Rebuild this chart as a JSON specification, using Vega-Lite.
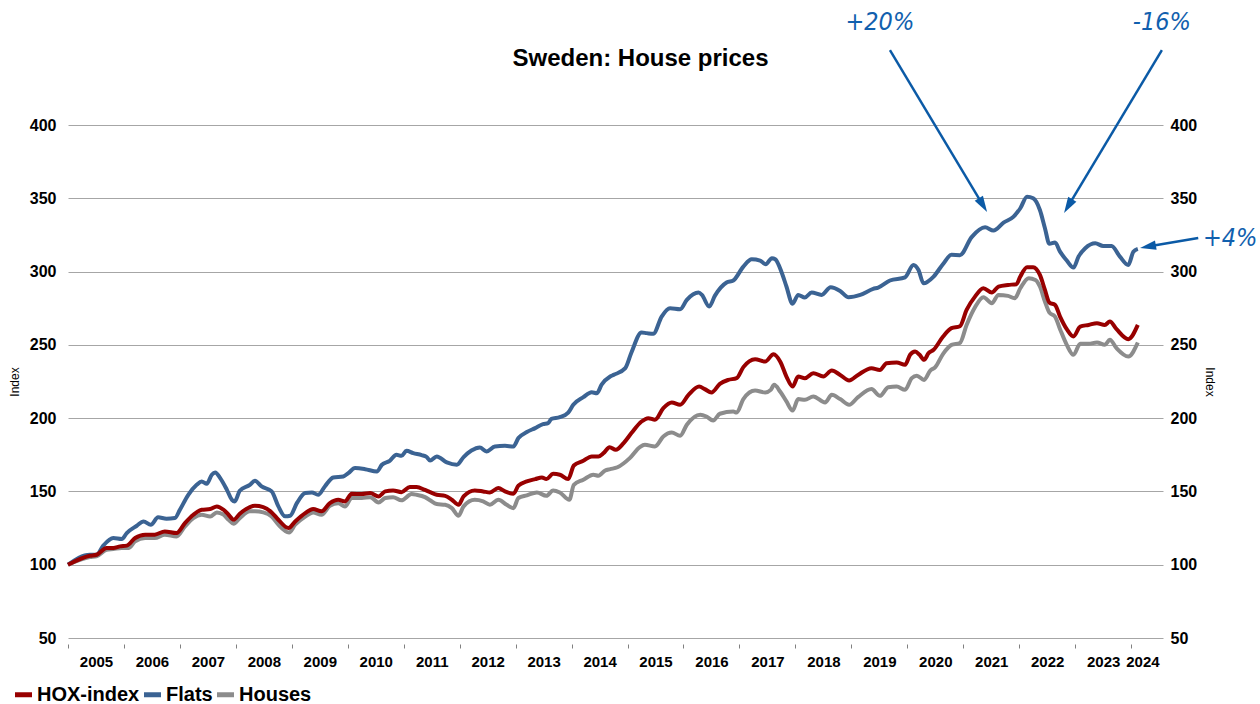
{
  "$schema": "https://vega.github.io/schema/vega-lite/v6.json",
  "width": 1095,
  "height": 513,
  "autosize": "none",
  "padding": {"left": 68, "top": 125, "right": 97, "bottom": 66},
  "background": "white",
  "title": {"text": "Sweden: House prices", "font": "Liberation Sans", "fontSize": 24, "fontWeight": "bold", "color": "#000000", "anchor": "middle", "frame": "group", "dx": 25, "offset": -61},
  "config": {
    "view": {"stroke": null},
    "axis": {"labelFont": "Liberation Sans", "titleFont": "Liberation Sans", "labelColor": "#000000", "titleColor": "#000000"}
  },
  "datasets": {
    "hox": [
      {"year":2005.0,"index":100},{"year":2005.39,"index":106.1},{"year":2005.51,"index":106.8},{"year":2005.69,"index":111.4},{"year":2005.81,"index":111.4},{"year":2005.93,"index":112.5},{"year":2006.05,"index":113},{"year":2006.2,"index":118.2},{"year":2006.38,"index":120.5},{"year":2006.55,"index":120.5},{"year":2006.73,"index":122.7},{"year":2006.94,"index":121.6},{"year":2007.09,"index":128.4},{"year":2007.24,"index":134.1},{"year":2007.39,"index":137.5},{"year":2007.54,"index":138},{"year":2007.66,"index":139.8},{"year":2007.78,"index":137.5},{"year":2007.87,"index":134.1},{"year":2007.96,"index":130.7},{"year":2008.07,"index":134.8},{"year":2008.25,"index":139.3},{"year":2008.34,"index":140.2},{"year":2008.49,"index":139.3},{"year":2008.64,"index":135.7},{"year":2008.76,"index":130.7},{"year":2008.94,"index":125},{"year":2009.06,"index":129.5},{"year":2009.24,"index":135.2},{"year":2009.38,"index":138},{"year":2009.53,"index":136.4},{"year":2009.68,"index":142},{"year":2009.83,"index":144.3},{"year":2009.95,"index":143.2},{"year":2010.07,"index":148.4},{"year":2010.25,"index":148.2},{"year":2010.4,"index":148.9},{"year":2010.55,"index":146.6},{"year":2010.67,"index":150},{"year":2010.81,"index":150.7},{"year":2010.96,"index":149.5},{"year":2011.11,"index":153},{"year":2011.23,"index":153},{"year":2011.38,"index":151},{"year":2011.47,"index":149.5},{"year":2011.59,"index":147.7},{"year":2011.74,"index":147},{"year":2011.86,"index":144.3},{"year":2011.98,"index":140.9},{"year":2012.07,"index":146.6},{"year":2012.27,"index":150.7},{"year":2012.42,"index":150},{"year":2012.54,"index":149.3},{"year":2012.69,"index":152.3},{"year":2012.81,"index":150},{"year":2012.96,"index":148.4},{"year":2013.05,"index":153.9},{"year":2013.2,"index":156.8},{"year":2013.35,"index":158.4},{"year":2013.47,"index":159.5},{"year":2013.55,"index":158.4},{"year":2013.67,"index":162},{"year":2013.79,"index":161.4},{"year":2013.94,"index":158.4},{"year":2014.04,"index":167.7},{"year":2014.21,"index":170.9},{"year":2014.36,"index":173.9},{"year":2014.48,"index":173.9},{"year":2014.57,"index":176.1},{"year":2014.68,"index":180.2},{"year":2014.79,"index":178.4},{"year":2014.93,"index":183},{"year":2015.07,"index":189.8},{"year":2015.25,"index":197.7},{"year":2015.37,"index":200},{"year":2015.49,"index":198.9},{"year":2015.64,"index":206.8},{"year":2015.79,"index":210.7},{"year":2015.94,"index":209.1},{"year":2016.09,"index":215.9},{"year":2016.28,"index":221.6},{"year":2016.38,"index":219.8},{"year":2016.5,"index":217.5},{"year":2016.65,"index":223.4},{"year":2016.8,"index":226.1},{"year":2016.95,"index":227.3},{"year":2017.07,"index":234.8},{"year":2017.28,"index":240.2},{"year":2017.46,"index":238.6},{"year":2017.61,"index":243.6},{"year":2017.73,"index":238.5},{"year":2017.84,"index":228.4},{"year":2017.95,"index":221.6},{"year":2018.05,"index":228.4},{"year":2018.17,"index":227.3},{"year":2018.32,"index":230.7},{"year":2018.5,"index":228.4},{"year":2018.65,"index":232.5},{"year":2018.8,"index":229.5},{"year":2018.96,"index":225.7},{"year":2019.12,"index":229.5},{"year":2019.36,"index":234.1},{"year":2019.51,"index":232.9},{"year":2019.63,"index":237.5},{"year":2019.81,"index":237.9},{"year":2019.96,"index":236.4},{"year":2020.05,"index":243.2},{"year":2020.14,"index":245.5},{"year":2020.22,"index":243.2},{"year":2020.3,"index":239.8},{"year":2020.38,"index":244.3},{"year":2020.47,"index":246.6},{"year":2020.64,"index":255.7},{"year":2020.79,"index":261.4},{"year":2020.94,"index":262.7},{"year":2021.06,"index":273.9},{"year":2021.21,"index":282.9},{"year":2021.36,"index":288.6},{"year":2021.51,"index":285.7},{"year":2021.63,"index":289.8},{"year":2021.8,"index":290.9},{"year":2021.95,"index":291.4},{"year":2022.02,"index":296.6},{"year":2022.14,"index":303},{"year":2022.25,"index":303},{"year":2022.37,"index":297.7},{"year":2022.46,"index":287.5},{"year":2022.54,"index":278.8},{"year":2022.64,"index":277.3},{"year":2022.73,"index":269.3},{"year":2022.85,"index":260.7},{"year":2022.97,"index":255.7},{"year":2023.09,"index":262.5},{"year":2023.24,"index":263.6},{"year":2023.39,"index":264.8},{"year":2023.53,"index":263.6},{"year":2023.62,"index":265.9},{"year":2023.74,"index":260.7},{"year":2023.95,"index":253.9},{"year":2024.12,"index":263.6}
    ],
    "flats": [
      {"year":2005.0,"index":100},{"year":2005.39,"index":106.8},{"year":2005.51,"index":106.8},{"year":2005.63,"index":113},{"year":2005.81,"index":118.2},{"year":2005.96,"index":117.5},{"year":2006.05,"index":121.6},{"year":2006.23,"index":126.6},{"year":2006.35,"index":129.5},{"year":2006.48,"index":127.3},{"year":2006.61,"index":132.3},{"year":2006.76,"index":131.4},{"year":2006.91,"index":131.8},{"year":2007.0,"index":137.5},{"year":2007.15,"index":147.7},{"year":2007.3,"index":154.5},{"year":2007.39,"index":156.8},{"year":2007.48,"index":155.2},{"year":2007.57,"index":161.4},{"year":2007.63,"index":162.9},{"year":2007.72,"index":159.1},{"year":2007.84,"index":151.1},{"year":2007.93,"index":144.3},{"year":2007.98,"index":143.2},{"year":2008.07,"index":150.5},{"year":2008.25,"index":154.5},{"year":2008.34,"index":157.3},{"year":2008.46,"index":153.4},{"year":2008.64,"index":150},{"year":2008.76,"index":139.8},{"year":2008.88,"index":133},{"year":2008.97,"index":133.4},{"year":2009.09,"index":142},{"year":2009.24,"index":148.9},{"year":2009.36,"index":149.3},{"year":2009.47,"index":147.7},{"year":2009.59,"index":153.4},{"year":2009.74,"index":159.5},{"year":2009.92,"index":160.2},{"year":2010.01,"index":162.5},{"year":2010.13,"index":165.9},{"year":2010.31,"index":165.2},{"year":2010.52,"index":163.6},{"year":2010.61,"index":168.2},{"year":2010.75,"index":170.9},{"year":2010.87,"index":175},{"year":2010.96,"index":174.3},{"year":2011.05,"index":177.7},{"year":2011.17,"index":176.1},{"year":2011.32,"index":174.8},{"year":2011.41,"index":173.5},{"year":2011.47,"index":171.1},{"year":2011.59,"index":173.9},{"year":2011.77,"index":169.8},{"year":2011.95,"index":168.2},{"year":2012.07,"index":173.4},{"year":2012.21,"index":177.9},{"year":2012.36,"index":180},{"year":2012.48,"index":177.3},{"year":2012.63,"index":180.7},{"year":2012.81,"index":181.1},{"year":2012.96,"index":180.7},{"year":2013.05,"index":186.4},{"year":2013.2,"index":190.5},{"year":2013.35,"index":193.2},{"year":2013.49,"index":195.9},{"year":2013.58,"index":196.6},{"year":2013.64,"index":199.5},{"year":2013.79,"index":200.7},{"year":2013.94,"index":203.8},{"year":2014.03,"index":209.1},{"year":2014.21,"index":214.3},{"year":2014.36,"index":217.7},{"year":2014.45,"index":217},{"year":2014.54,"index":223},{"year":2014.69,"index":228.4},{"year":2014.75,"index":229.5},{"year":2014.96,"index":234.1},{"year":2015.07,"index":244.8},{"year":2015.25,"index":258.4},{"year":2015.34,"index":258},{"year":2015.46,"index":257.5},{"year":2015.61,"index":269.3},{"year":2015.76,"index":275},{"year":2015.94,"index":274.3},{"year":2016.06,"index":280.7},{"year":2016.27,"index":285.7},{"year":2016.33,"index":284.1},{"year":2016.46,"index":276.1},{"year":2016.56,"index":283.4},{"year":2016.77,"index":292.5},{"year":2016.89,"index":293.9},{"year":2017.07,"index":303.4},{"year":2017.22,"index":308.4},{"year":2017.37,"index":307.5},{"year":2017.47,"index":305},{"year":2017.58,"index":309.1},{"year":2017.64,"index":308.4},{"year":2017.76,"index":298.9},{"year":2017.84,"index":289.8},{"year":2017.95,"index":278},{"year":2018.05,"index":284.1},{"year":2018.17,"index":282.3},{"year":2018.29,"index":285.7},{"year":2018.47,"index":284.1},{"year":2018.63,"index":289.3},{"year":2018.8,"index":286.8},{"year":2018.95,"index":282.5},{"year":2019.16,"index":284.1},{"year":2019.39,"index":288.2},{"year":2019.48,"index":289.1},{"year":2019.69,"index":293.9},{"year":2019.96,"index":296.1},{"year":2020.11,"index":304.5},{"year":2020.2,"index":301.1},{"year":2020.29,"index":292},{"year":2020.47,"index":296.6},{"year":2020.64,"index":305.2},{"year":2020.79,"index":311.4},{"year":2020.94,"index":311.2},{"year":2021.15,"index":323.5},{"year":2021.39,"index":330.2},{"year":2021.54,"index":328},{"year":2021.72,"index":333.4},{"year":2021.9,"index":337.5},{"year":2022.02,"index":343.2},{"year":2022.14,"index":351.1},{"year":2022.25,"index":350},{"year":2022.37,"index":342},{"year":2022.46,"index":329.6},{"year":2022.54,"index":318.9},{"year":2022.64,"index":319.8},{"year":2022.73,"index":313.6},{"year":2022.85,"index":307.5},{"year":2022.97,"index":302.7},{"year":2023.06,"index":310.2},{"year":2023.18,"index":315.9},{"year":2023.36,"index":319.3},{"year":2023.5,"index":317.5},{"year":2023.65,"index":317.5},{"year":2023.8,"index":310.2},{"year":2023.95,"index":304.5},{"year":2024.04,"index":313.6},{"year":2024.12,"index":315.5}
    ],
    "houses": [
      {"year":2005.0,"index":100},{"year":2005.39,"index":105.2},{"year":2005.51,"index":105.7},{"year":2005.69,"index":110.2},{"year":2005.81,"index":110.7},{"year":2005.96,"index":111.4},{"year":2006.08,"index":111.4},{"year":2006.2,"index":115.9},{"year":2006.38,"index":118.2},{"year":2006.55,"index":118.2},{"year":2006.73,"index":120.5},{"year":2006.94,"index":119.3},{"year":2007.09,"index":126.1},{"year":2007.24,"index":131.8},{"year":2007.39,"index":134.1},{"year":2007.54,"index":132.9},{"year":2007.66,"index":135.7},{"year":2007.78,"index":134.1},{"year":2007.87,"index":130.7},{"year":2007.96,"index":128},{"year":2008.07,"index":131.8},{"year":2008.25,"index":136.4},{"year":2008.34,"index":136.4},{"year":2008.49,"index":135.7},{"year":2008.64,"index":132.9},{"year":2008.76,"index":127.3},{"year":2008.95,"index":122},{"year":2009.06,"index":127.3},{"year":2009.24,"index":132.9},{"year":2009.38,"index":135.7},{"year":2009.53,"index":134.1},{"year":2009.68,"index":140.2},{"year":2009.83,"index":142},{"year":2009.95,"index":139.8},{"year":2010.07,"index":145.5},{"year":2010.25,"index":145.5},{"year":2010.4,"index":146.1},{"year":2010.55,"index":142.5},{"year":2010.67,"index":145.5},{"year":2010.81,"index":146.1},{"year":2010.96,"index":143.9},{"year":2011.14,"index":148.2},{"year":2011.23,"index":147.7},{"year":2011.38,"index":146.1},{"year":2011.47,"index":144},{"year":2011.59,"index":141.4},{"year":2011.74,"index":140.9},{"year":2011.86,"index":138.6},{"year":2011.98,"index":133.4},{"year":2012.07,"index":139.8},{"year":2012.27,"index":144.3},{"year":2012.42,"index":143.2},{"year":2012.54,"index":140.9},{"year":2012.69,"index":144.3},{"year":2012.84,"index":140.9},{"year":2012.96,"index":138.6},{"year":2013.05,"index":145.5},{"year":2013.2,"index":147.3},{"year":2013.38,"index":149.3},{"year":2013.55,"index":147},{"year":2013.67,"index":150.7},{"year":2013.79,"index":149.3},{"year":2013.96,"index":144.3},{"year":2014.04,"index":154.5},{"year":2014.21,"index":158},{"year":2014.39,"index":161.4},{"year":2014.48,"index":160.7},{"year":2014.6,"index":164.3},{"year":2014.69,"index":165.2},{"year":2014.82,"index":166.5},{"year":2015.04,"index":172.7},{"year":2015.22,"index":180.2},{"year":2015.31,"index":181.8},{"year":2015.49,"index":180.7},{"year":2015.64,"index":187.5},{"year":2015.79,"index":190.2},{"year":2015.94,"index":188},{"year":2016.06,"index":195.5},{"year":2016.3,"index":202.3},{"year":2016.41,"index":201.1},{"year":2016.53,"index":198.4},{"year":2016.65,"index":203},{"year":2016.89,"index":204.5},{"year":2016.95,"index":203.8},{"year":2017.07,"index":213},{"year":2017.28,"index":218.8},{"year":2017.46,"index":217.5},{"year":2017.56,"index":219.3},{"year":2017.62,"index":222.7},{"year":2017.73,"index":218},{"year":2017.84,"index":211.4},{"year":2017.95,"index":205.2},{"year":2018.05,"index":213},{"year":2018.17,"index":212.5},{"year":2018.32,"index":214.8},{"year":2018.53,"index":210.7},{"year":2018.65,"index":215.9},{"year":2018.8,"index":213},{"year":2018.96,"index":209.1},{"year":2019.12,"index":214.3},{"year":2019.36,"index":219.8},{"year":2019.51,"index":215.2},{"year":2019.66,"index":221.1},{"year":2019.81,"index":221.6},{"year":2019.96,"index":219.3},{"year":2020.08,"index":227.3},{"year":2020.17,"index":228.9},{"year":2020.3,"index":226.1},{"year":2020.41,"index":232.5},{"year":2020.5,"index":234.8},{"year":2020.64,"index":243.9},{"year":2020.79,"index":250},{"year":2020.94,"index":251.3},{"year":2021.06,"index":263.6},{"year":2021.21,"index":275.7},{"year":2021.36,"index":282.5},{"year":2021.51,"index":278.4},{"year":2021.63,"index":284.1},{"year":2021.8,"index":283.4},{"year":2021.92,"index":281.8},{"year":2022.02,"index":288.6},{"year":2022.17,"index":295.5},{"year":2022.29,"index":294.3},{"year":2022.37,"index":289.8},{"year":2022.46,"index":279.5},{"year":2022.54,"index":272},{"year":2022.64,"index":269.3},{"year":2022.73,"index":260.7},{"year":2022.85,"index":250},{"year":2022.97,"index":243.2},{"year":2023.09,"index":250.7},{"year":2023.24,"index":250.7},{"year":2023.39,"index":251.6},{"year":2023.53,"index":250},{"year":2023.62,"index":253.4},{"year":2023.74,"index":247.7},{"year":2023.95,"index":242},{"year":2024.12,"index":251.6}
    ],
    "arrows": [
      {"label":"+20%","x1":2019.69,"y1":451.1,"x2":2021.352,"y2":345.4,"angle":149},
      {"label":"-16%","x1":2024.55,"y1":451.1,"x2":2022.875,"y2":344.7,"angle":211},
      {"label":"+4%","x1":2025.2,"y1":322.9,"x2":2024.301,"y2":317.1,"angle":260}
    ],
    "labels": [
      {"label":"+20%","x":2019.51,"y":470.2},
      {"label":"-16%","x":2024.55,"y":470.2},
      {"label":"+4%","x":2025.77,"y":322.9}
    ]
  },
  "resolve": {"scale": {"y": "independent"}},
  "layer": [
    {
      "data": {"name": "houses"},
      "mark": {"type": "line", "strokeWidth": 4, "interpolate": "monotone"},
      "encoding": {
        "x": {"field": "year", "type": "quantitative", "scale": {"domain": [2005, 2024.57], "nice": false, "zero": false},
          "axis": {"values": [2005,2006,2007,2008,2009,2010,2011,2012,2013,2014,2015,2016,2017,2018,2019,2020,2021,2022,2023,2024],
            "format": "d", "title": null, "grid": false, "domain": false, "offset": 6, "tickSize": 4, "tickColor": "#808080", "tickWidth": 1,
            "labelFontSize": 15, "labelFontWeight": "bold", "labelPadding": 6, "labelFlush": false, "labelOverlap": false, "labelOffset": 28,
            "labelAlign": {"condition": {"test": "datum.value == 2024", "value": "right"}, "value": "center"}}},
        "y": {"field": "index", "type": "quantitative", "scale": {"domain": [50, 400], "nice": false, "zero": false},
          "axis": {"orient": "left", "values": [50,100,150,200,250,300,350,400], "title": "Index", "titleFontSize": 12, "titleFontWeight": "normal", "titlePadding": 8,
            "grid": true, "gridColor": "#A6A6A6", "gridWidth": 1, "domain": false, "ticks": false, "labelFontSize": 16, "labelFontWeight": "bold", "labelPadding": 12}},
        "color": {"datum": "Houses", "type": "nominal",
          "scale": {"domain": ["HOX-index", "Flats", "Houses"], "range": ["#980000", "#3B6393", "#8C8C8C"]},
          "legend": {"orient": "none", "legendX": -56, "legendY": 558, "direction": "horizontal", "title": null,
            "symbolType": "stroke", "symbolStrokeWidth": 5, "symbolSize": 290, "labelFont": "Liberation Sans", "labelFontSize": 20, "labelFontWeight": "bold", "labelColor": "#000000",
            "labelOffset": 2, "columnPadding": -7, "symbolOffset": 0, "padding": 0}}
      }
    },
    {
      "data": {"name": "flats"},
      "mark": {"type": "line", "strokeWidth": 4, "interpolate": "monotone"},
      "encoding": {
        "x": {"field": "year", "type": "quantitative", "scale": {"domain": [2005, 2024.57], "nice": false, "zero": false}, "axis": {"title": null}},
        "y": {"field": "index", "type": "quantitative", "scale": {"domain": [50, 400], "nice": false, "zero": false}, "axis": null},
        "color": {"datum": "Flats", "type": "nominal"}
      }
    },
    {
      "data": {"name": "arrows"},
      "mark": {"type": "rule", "color": "#0B5AA6", "strokeWidth": 2.5},
      "encoding": {
        "x": {"field": "x1", "type": "quantitative", "scale": {"domain": [2005, 2024.57], "nice": false, "zero": false}, "axis": {"title": null}},
        "x2": {"field": "x2"},
        "y": {"field": "y1", "type": "quantitative", "scale": {"domain": [50, 400], "nice": false, "zero": false}, "axis": null},
        "y2": {"field": "y2"}
      }
    },
    {
      "data": {"name": "arrows"},
      "mark": {"type": "point", "filled": true, "color": "#0B5AA6", "opacity": 1, "shape": "M0,-1L0.6,1L-0.6,1Z", "size": 256},
      "encoding": {
        "x": {"field": "x2", "type": "quantitative", "scale": {"domain": [2005, 2024.57], "nice": false, "zero": false}, "axis": {"title": null}},
        "y": {"field": "y2", "type": "quantitative", "scale": {"domain": [50, 400], "nice": false, "zero": false}, "axis": null},
        "angle": {"field": "angle", "type": "quantitative", "scale": null}
      }
    },
    {
      "data": {"name": "labels"},
      "mark": {"type": "text", "color": "#1160AE", "font": "DejaVu Sans Condensed, Liberation Sans", "fontStyle": "italic", "fontWeight": "normal", "fontSize": 25, "align": "center", "baseline": "middle"},
      "encoding": {
        "x": {"field": "x", "type": "quantitative", "scale": {"domain": [2005, 2024.57], "nice": false, "zero": false}, "axis": {"title": null}},
        "y": {"field": "y", "type": "quantitative", "scale": {"domain": [50, 400], "nice": false, "zero": false}, "axis": null},
        "text": {"field": "label"}
      }
    },
    {
      "data": {"name": "hox"},
      "mark": {"type": "line", "strokeWidth": 4, "interpolate": "monotone"},
      "encoding": {
        "x": {"field": "year", "type": "quantitative", "scale": {"domain": [2005, 2024.57], "nice": false, "zero": false}, "axis": {"title": null}},
        "y": {"field": "index", "type": "quantitative", "scale": {"domain": [50, 400], "nice": false, "zero": false},
          "axis": {"orient": "right", "values": [50,100,150,200,250,300,350,400], "title": "Index", "titleFontSize": 12, "titleFontWeight": "normal", "titlePadding": 6,
            "grid": false, "domain": false, "ticks": false, "labelFontSize": 16, "labelFontWeight": "bold", "labelPadding": 7}},
        "color": {"datum": "HOX-index", "type": "nominal"}
      }
    }
  ]
}
